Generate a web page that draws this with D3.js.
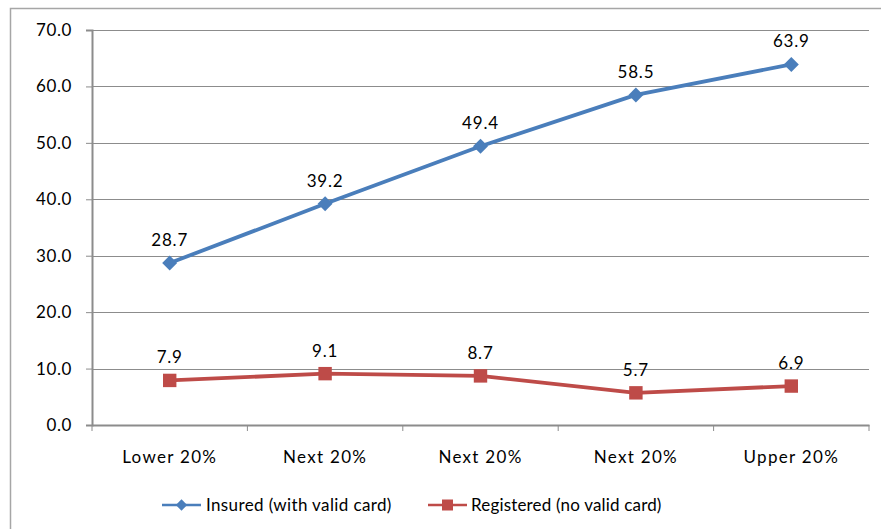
<!DOCTYPE html>
<html><head><meta charset="utf-8">
<script src="https://cdn.jsdelivr.net/npm/d3@7/dist/d3.min.js"></script>
<style>body{margin:0;background:#fff}text{font-family:Lato,"DejaVu Sans",sans-serif;fill:#000}</style>
</head><body><svg id="c" width="881" height="529"></svg>
<script>
const categories = ["Lower 20%", "Next 20%", "Next 20%", "Next 20%", "Upper 20%"];
const insured = [28.7, 39.2, 49.4, 58.5, 63.9];
const registered = [7.9, 9.1, 8.7, 5.7, 6.9];
const yTicks = [0, 10, 20, 30, 40, 50, 60, 70];
const seriesNames = ["Insured (with valid card)", "Registered (no valid card)"];

const FONT = "Lato";
const svg = d3.select("#c");
const L = 92, R = 869, T = 30, B = 425;
svg.append("rect").attr("x", 10.5).attr("y", 8.5).attr("width", 900).attr("height", 600)
  .attr("fill", "none").attr("stroke", "#a6a6a6").attr("stroke-width", 1.5);

const x = d3.scaleBand().domain(d3.range(categories.length)).range([L, R]);
const y = d3.scaleLinear().domain([0, 70]).range([B, T]);

svg.append("g").selectAll("line").data(yTicks.filter(d => d > 0)).join("line")
  .attr("x1", L).attr("x2", R).attr("y1", d => Math.round(y(d)) + 0.5).attr("y2", d => Math.round(y(d)) + 0.5)
  .attr("stroke", "#8c8c8c").attr("stroke-width", 1);

const ya = svg.append("g").attr("transform", `translate(${L},0)`)
  .call(d3.axisLeft(y).tickValues(yTicks).tickFormat(d3.format(".1f")).tickSize(6).tickPadding(14));
ya.select(".domain").attr("stroke", "#8c8c8c").attr("stroke-width", 2);
ya.selectAll(".tick line").attr("stroke", "#8c8c8c");
ya.selectAll("text").attr("font-size", 17).attr("font-family", FONT).attr("letter-spacing", 0.6).attr("fill", "#000");

const xa = svg.append("g").attr("transform", `translate(0,${B})`)
  .call(d3.axisBottom(x).tickFormat(i => categories[i]).tickSize(0).tickPadding(26));
xa.select(".domain").attr("stroke", "#8c8c8c").attr("stroke-width", 2);
xa.selectAll("text").attr("font-size", 17).attr("font-family", FONT).attr("letter-spacing", 1.3).attr("fill", "#000");
svg.append("g").selectAll("line").data(d3.range(categories.length + 1)).join("line")
  .attr("x1", i => i < categories.length ? x(i) : R).attr("x2", i => i < categories.length ? x(i) : R)
  .attr("y1", B).attr("y2", B + 6).attr("stroke", "#8c8c8c").attr("stroke-width", 1);

const cx = i => x(i) + x.bandwidth() / 2;
const line = d3.line().x((d, i) => cx(i)).y(d => y(d));
const blue = "#4a7ebb", red = "#be4b48";

function series(data, color, shape) {
  svg.append("path").datum(data).attr("d", line).attr("fill", "none")
    .attr("stroke", color).attr("stroke-width", 3.8).attr("stroke-linejoin", "round");
  const sym = shape === "diamond"
    ? d3.symbol().type(d3.symbolSquare).size(112)
    : d3.symbol().type(d3.symbolSquare).size(180);
  svg.append("g").selectAll("path").data(data).join("path")
    .attr("d", sym)
    .attr("transform", (d, i) => `translate(${cx(i)},${y(d)})` + (shape === "diamond" ? " rotate(45)" : ""))
    .attr("fill", color);
  svg.append("g").selectAll("text").data(data).join("text")
    .attr("x", (d, i) => cx(i)).attr("y", d => y(d) - 17)
    .attr("text-anchor", "middle").attr("font-size", 17).attr("letter-spacing", 0.8)
    .text(d => d.toFixed(1));
}
series(insured, blue, "diamond");
series(registered, red, "square");

const ly = 505;
const lg = [{x0: 162, tx: 206, c: blue, s: "diamond", name: seriesNames[0]}, {x0: 428, tx: 471, c: red, s: "square", name: seriesNames[1]}];
lg.forEach(l => {
  svg.append("line").attr("x1", l.x0).attr("x2", l.x0 + 39).attr("y1", ly).attr("y2", ly).attr("stroke", l.c).attr("stroke-width", 2.5);
  svg.append("path").attr("d", d3.symbol().type(d3.symbolSquare).size(l.s === "diamond" ? 64 : 121)())
    .attr("transform", `translate(${l.x0 + 19.5},${ly})` + (l.s === "diamond" ? " rotate(45)" : "")).attr("fill", l.c);
  svg.append("text").attr("x", l.tx).attr("y", ly).attr("dy", "0.35em").attr("font-size", 17).attr("letter-spacing", 0.6)
    .attr("textLength", l.name === seriesNames[0] ? 186 : 191).attr("lengthAdjust", "spacing").text(l.name);
});
</script></body></html>
